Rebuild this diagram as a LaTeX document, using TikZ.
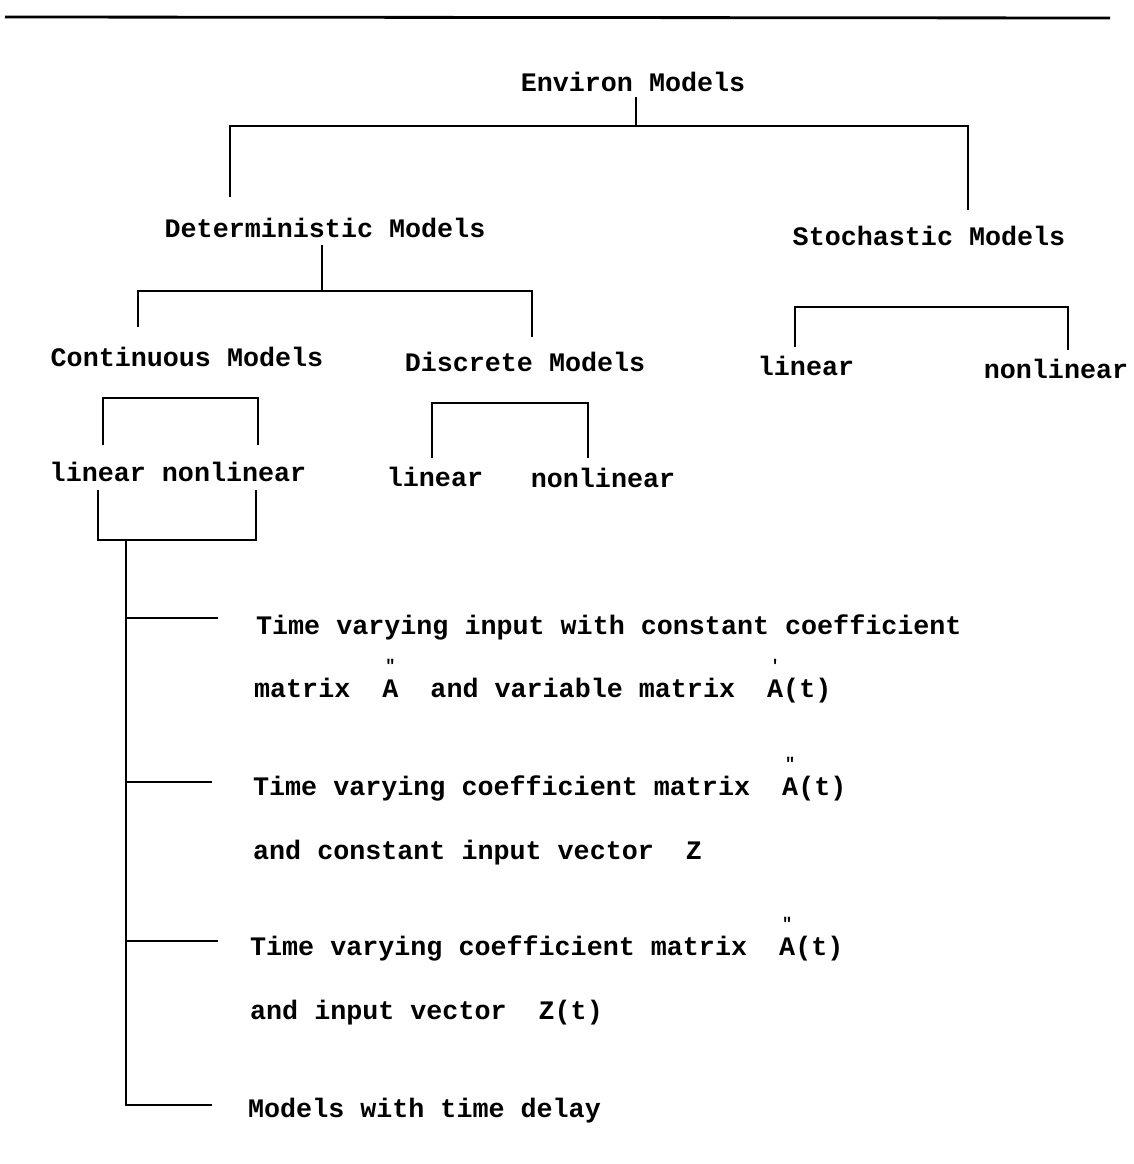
\documentclass[tikz,border=0pt]{standalone}
\usepackage{fontspec}
\setmonofont{Liberation Mono}
\usepackage{tikz}

\newcommand{\Add}{\ooalign{A\cr\hfil\raisebox{0.95em}{\fontsize{12}{12}\selectfont"}\hfil\cr}}
\newcommand{\Ap}{\ooalign{A\cr\hfil\raisebox{0.95em}{\fontsize{12}{12}\selectfont'}\hfil\cr}}

\begin{document}
\begin{tikzpicture}[x=0.025cm,y=-0.025cm,line width=1.6pt,
txt/.style={font=\fontsize{19}{23}\selectfont\ttfamily\bfseries,inner sep=0pt,anchor=base},
item/.style={txt,anchor=base west}]
\useasboundingbox (0,0) rectangle (1133,1164);

\node[txt] (env) at (633,91) {Environ Models};
\node[txt] (det) at (325,237) {Deterministic Models};
\node[txt] (sto) at (929,245) {Stochastic Models};
\node[txt] (cont) at (187,366) {Continuous Models};
\node[txt] (disc) at (525,371) {Discrete Models};
\node[txt] (stolin) at (806,375) {linear};
\node[txt] (stonon) at (1056,378) {nonlinear};
\node[txt] (contlin) at (178,481) {linear nonlinear};
\node[txt] (disclin) at (435,486) {linear};
\node[txt] (discnon) at (603,487) {nonlinear};

\node[item] (tv1a) at (255,634) {Time varying input with constant coefficient};
\node[item] (tv1b) at (253,697) {matrix~~\Add~~and variable matrix~~\Ap(t)};
\node[item] (tv2a) at (252,795) {Time varying coefficient matrix~~\Add(t)};
\node[item] (tv2b) at (252,859) {and constant input vector~~Z};
\node[item] (tv3a) at (249,955) {Time varying coefficient matrix~~\Add(t)};
\node[item] (tv3b) at (249,1019) {and input vector~~Z(t)};
\node[item] (delay) at (247,1117) {Models with time delay};

% top rule
\coordinate (rulel) at (5,17);
\coordinate (ruler) at (1110,18);
\draw[line width=2pt] (rulel) -- (ruler);

% first level
\coordinate (envb) at (636,97);
\coordinate (envj) at (636,126);
\coordinate (dett) at (230,197);
\coordinate (stot) at (968,210);
\draw (envb) -- (envj);
\draw (dett) |- (envj) -| (stot);

% deterministic
\coordinate (detb) at (322,245);
\coordinate (detj) at (322,291);
\coordinate (contt) at (138,327);
\coordinate (disct) at (532,337);
\draw (detb) -- (detj);
\draw (contt) |- (detj) -| (disct);

% stochastic
\coordinate (stol) at (795,347);
\coordinate (stor) at (1068,350);
\coordinate (stoj) at (930,307);
\draw (stol) |- (stoj) -| (stor);

% continuous
\coordinate (contl) at (103,445);
\coordinate (contr) at (258,445);
\coordinate (contj) at (180,398);
\draw (contl) |- (contj) -| (contr);

% discrete
\coordinate (discl) at (432,458);
\coordinate (discr) at (588,458);
\coordinate (discj) at (510,403);
\draw (discl) |- (discj) -| (discr);

% below linear nonlinear
\coordinate (lowl) at (98,490);
\coordinate (lowr) at (256,490);
\coordinate (lowj) at (126,540);
\draw (lowl) |- (lowj) -| (lowr);

% trunk and branches
\coordinate (br1) at (218,618);
\coordinate (br2) at (212,782);
\coordinate (br3) at (218,941);
\coordinate (br4) at (212,1105);
\draw (lowj) |- (br4);
\draw (lowj |- br1) -- (br1);
\draw (lowj |- br2) -- (br2);
\draw (lowj |- br3) -- (br3);
\end{tikzpicture}
\end{document}
